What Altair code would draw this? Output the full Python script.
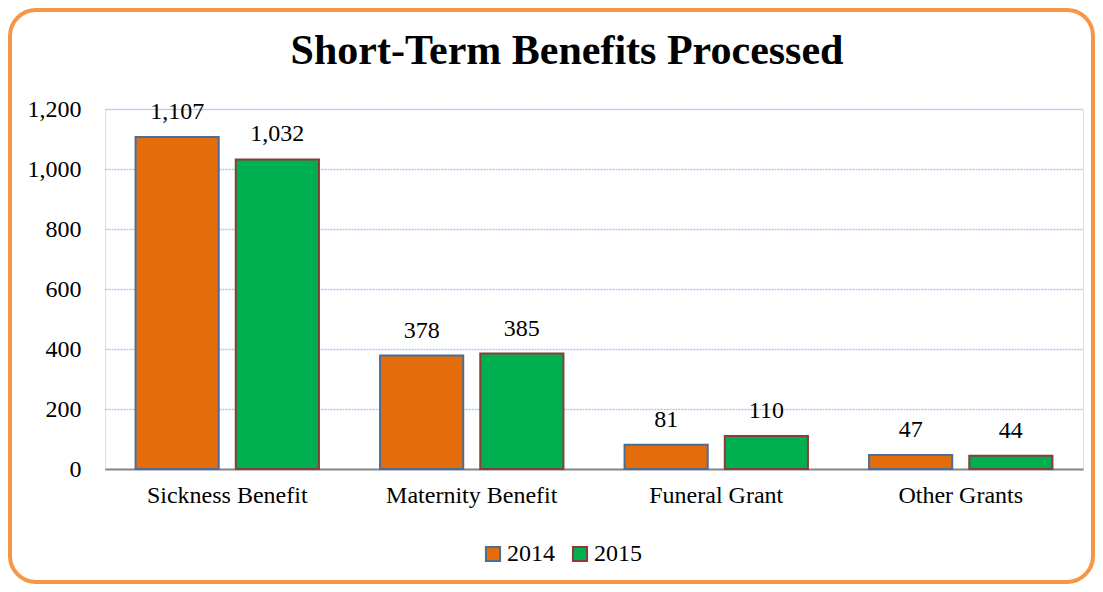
import altair as alt
import pandas as pd

categories = ["Sickness Benefit", "Maternity Benefit", "Funeral Grant", "Other Grants"]
years = ["2014", "2015"]
values_2014 = [1107, 378, 81, 47]
values_2015 = [1032, 385, 110, 44]
y_ticks = [0, 200, 400, 600, 800, 1000, 1200]

fills = ["#E46C0A", "#00B050"]
strokes = ["#4A6E98", "#8C3B3B"]

rows = []
for c, a, b in zip(categories, values_2014, values_2015):
    rows.append({"category": c, "year": years[0], "value": a})
    rows.append({"category": c, "year": years[1], "value": b})
df = pd.DataFrame(rows)

FONT = "Liberation Serif"
W, H = 978, 360
PAD = {"left": 97, "top": 101, "right": 12, "bottom": 115}
TOTAL_W = W + PAD["left"] + PAD["right"]
TOTAL_H = H + PAD["top"] + PAD["bottom"]

base = alt.Chart(df)

x_enc = alt.X("category:N", sort=categories, title=None,
              scale=alt.Scale(paddingInner=0.25, paddingOuter=0.125),
              axis=alt.Axis(labelAngle=0, ticks=False, domain=True,
                            domainColor="#888888", domainWidth=2,
                            labelPadding=14, labelFontSize=24, labelFont=FONT,
                            labelColor="#000000", grid=False))
y_enc = alt.Y("value:Q", title=None,
              scale=alt.Scale(domain=[0, 1200], nice=False),
              axis=alt.Axis(values=y_ticks, format=",.0f", ticks=False, domain=False,
                            labelPadding=24, labelFontSize=24, labelFont=FONT,
                            labelColor="#000000", grid=True, gridColor="#B0C6E4",
                            gridDash=[2, 1], gridWidth=1.5))
xoff = alt.XOffset("year:N", sort=years, scale=alt.Scale(paddingInner=0.17, paddingOuter=0))

bars = base.mark_bar(strokeWidth=2).encode(
    x=x_enc,
    y=y_enc,
    xOffset=xoff,
    color=alt.Color("year:N", sort=years, title=None,
                    scale=alt.Scale(domain=years, range=fills),
                    legend=alt.Legend(orient="none", legendX=376, legendY=433,
                                      direction="horizontal",
                                      labelFontSize=24, labelFont=FONT,
                                      labelColor="#000000", symbolType="square",
                                      symbolSize=200, symbolStrokeWidth=2,
                                      columnPadding=13, labelOffset=2)),
    stroke=alt.Stroke("year:N", sort=years, title=None,
                      scale=alt.Scale(domain=years, range=strokes)),
)

labels = base.mark_text(fontSize=24, font=FONT, color="#000000",
                        baseline="alphabetic", dy=-18).encode(
    x=alt.X("category:N", sort=categories),
    y="value:Q",
    xOffset=alt.XOffset("year:N", sort=years),
    text=alt.Text("value:Q", format=",.0f"),
)

border = alt.Chart(pd.DataFrame({"k": [0]})).mark_rect(
    fill=None, stroke="#F79646", strokeWidth=4, cornerRadius=26
).encode(
    x=alt.value(-PAD["left"] + 2),
    x2=alt.value(TOTAL_W - PAD["left"] - 2),
    y=alt.value(-PAD["top"] + 2),
    y2=alt.value(TOTAL_H - PAD["top"] - 2),
)

chart = alt.layer(bars, labels, border).properties(
    width=W, height=H,
    padding=PAD,
    autosize=alt.AutoSizeParams(type="none"),
    title=alt.TitleParams("Short-Term Benefits Processed", font=FONT, fontSize=42,
                          fontWeight="bold", color="#000000", anchor="middle",
                          frame="group", dx=-27, offset=0, baseline="alphabetic",
                          dy=98),
).configure_view(stroke=None).configure(background="white")

chart.save("out.html", embed_options={"renderer": "svg", "actions": False})
